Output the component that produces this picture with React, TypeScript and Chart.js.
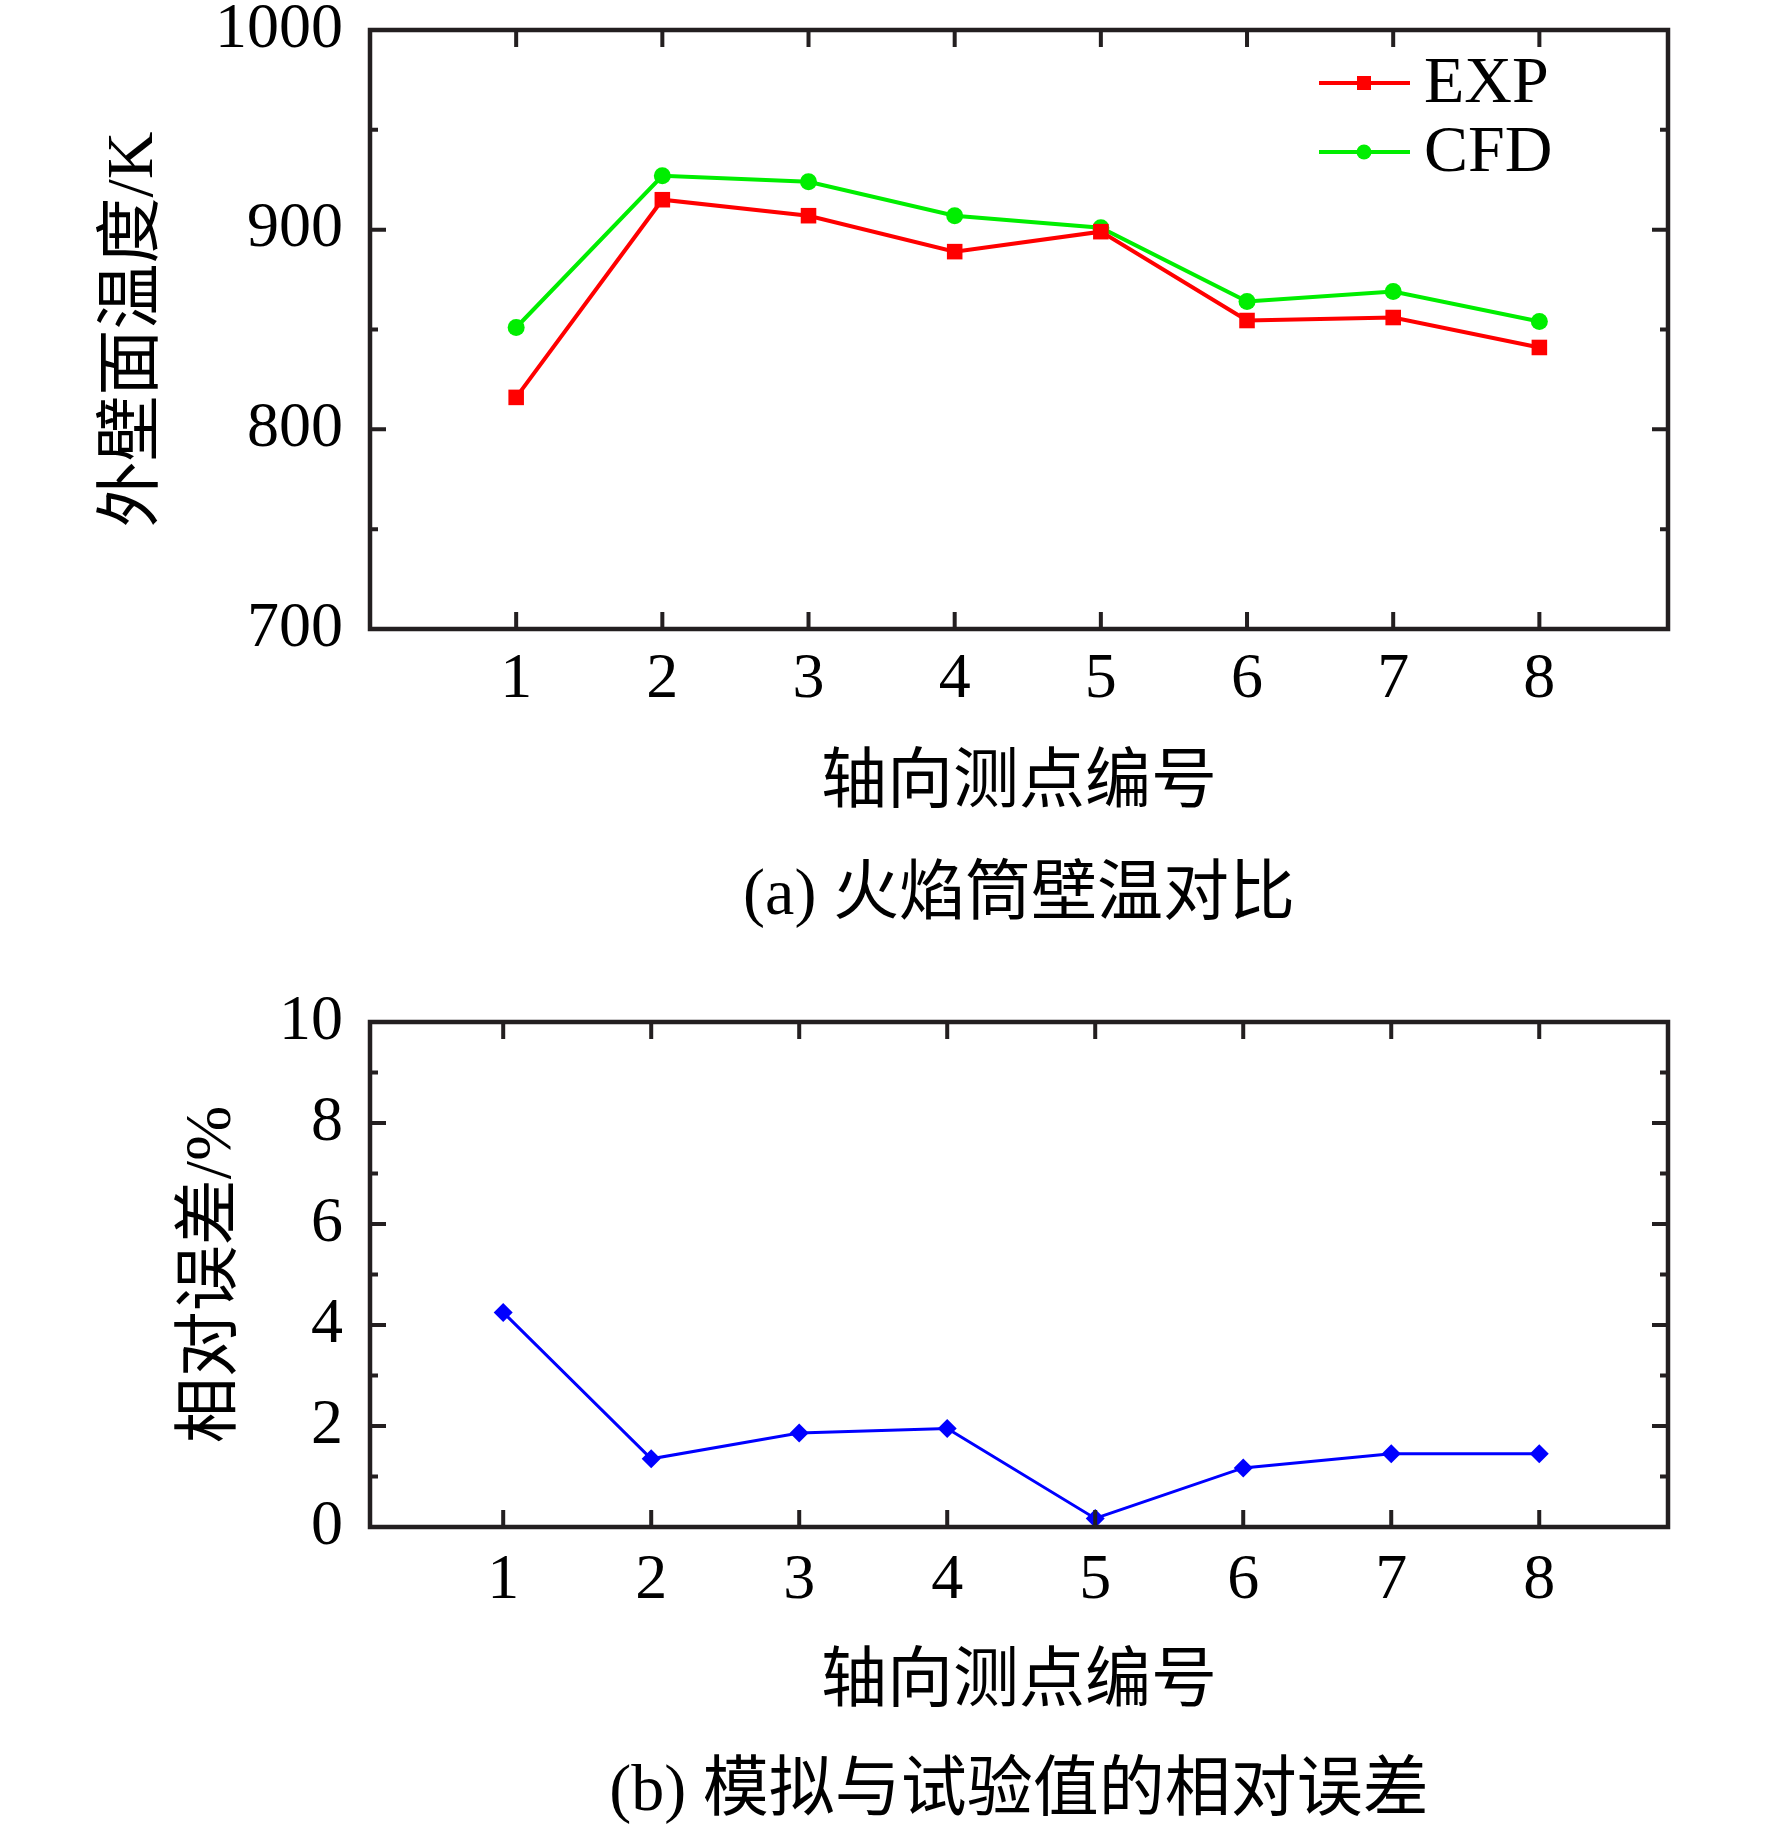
import React, { useEffect, useRef } from "react";
import { Chart, registerables } from "chart.js";

Chart.register(...registerables);

// ---------- data ----------
const POINTS = [1, 2, 3, 4, 5, 6, 7, 8];
const EXP = [816, 915, 907, 889, 899, 854.5, 856, 841];
const CFD = [851, 927, 924, 907, 901, 864, 869, 854];
const ERR = [4.25, 1.35, 1.86, 1.95, 0.17, 1.17, 1.45, 1.45];
const TOP_Y_MINOR = [750, 850, 950];
const BOT_Y_MINOR = [1, 3, 5, 7, 9];
const X_TITLE = "轴向测点编号";
const CAPTION_A = "(a) 火焰筒壁温对比";
const CAPTION_B = "(b) 模拟与试验值的相对误差";
const Y_TITLE_A = "外壁面温度/K";
const Y_TITLE_B = "相对误差/%";

// ---------- style ----------
const FAMILY = '"Liberation Serif", "Times New Roman", "Noto Sans CJK SC", serif';
const FRAME = "#231f20";
const RED = "#ff0000";
const GREEN = "#00ee00";
const BLUE = "#0000ff";

const framePlugin = (minor: number[]) => ({
  id: "frame",
  afterDraw(chart: any) {
    const { ctx, chartArea: a, scales } = chart;
    const xs = scales.x;
    const ys = scales.y;
    ctx.save();
    ctx.strokeStyle = FRAME;
    ctx.lineWidth = 4;
    ctx.beginPath();
    for (const t of xs.ticks) {
      const px = xs.getPixelForValue(t.value);
      ctx.moveTo(px, a.bottom);
      ctx.lineTo(px, a.bottom - 17);
      ctx.moveTo(px, a.top);
      ctx.lineTo(px, a.top + 17);
    }
    for (const t of ys.ticks) {
      const py = ys.getPixelForValue(t.value);
      ctx.moveTo(a.left, py);
      ctx.lineTo(a.left + 16, py);
      ctx.moveTo(a.right, py);
      ctx.lineTo(a.right - 16, py);
    }
    for (const v of minor) {
      const py = ys.getPixelForValue(v);
      ctx.moveTo(a.left, py);
      ctx.lineTo(a.left + 8, py);
      ctx.moveTo(a.right, py);
      ctx.lineTo(a.right - 8, py);
    }
    ctx.stroke();
    ctx.lineWidth = 4.5;
    ctx.strokeRect(a.left, a.top, a.right - a.left, a.bottom - a.top);
    ctx.restore();
  },
});

const legendPlugin = (x: number, y: number, gap: number) => ({
  id: "customLegend",
  afterDraw(chart: any) {
    const ctx = chart.ctx;
    ctx.save();
    chart.data.datasets.forEach((ds: any, i: number) => {
      const yy = y + i * gap;
      ctx.strokeStyle = ds.borderColor;
      ctx.lineWidth = 4;
      ctx.beginPath();
      ctx.moveTo(x, yy);
      ctx.lineTo(x + 91, yy);
      ctx.stroke();
      ctx.fillStyle = ds.borderColor;
      const cx = x + 45;
      if (ds.pointStyle === "rect") {
        ctx.fillRect(cx - 7, yy - 7, 14, 14);
      } else {
        ctx.beginPath();
        ctx.arc(cx, yy, 7.5, 0, Math.PI * 2);
        ctx.fill();
      }
      ctx.fillStyle = "#000";
      ctx.font = `66px ${FAMILY}`;
      ctx.textAlign = "left";
      ctx.textBaseline = "middle";
      ctx.fillText(ds.label, x + 105, yy + 2);
    });
    ctx.restore();
  },
});

const tickFont = { family: FAMILY, size: 64, lineHeight: 1 };
const plainNum = (v: any) => String(v);

function topConfig(): any {
  return {
    type: "line",
    data: {
      datasets: [
        {
          label: "EXP",
          data: POINTS.map((x, i) => ({ x, y: EXP[i] })),
          borderColor: RED,
          backgroundColor: RED,
          borderWidth: 4,
          pointStyle: "rect",
          pointRadius: 11,
          pointBorderWidth: 0,
          tension: 0,
        },
        {
          label: "CFD",
          data: POINTS.map((x, i) => ({ x, y: CFD[i] })),
          borderColor: GREEN,
          backgroundColor: GREEN,
          borderWidth: 4,
          pointStyle: "circle",
          pointRadius: 8.5,
          pointBorderWidth: 0,
          tension: 0,
        },
      ],
    },
    options: {
      responsive: false,
      animation: false,
      devicePixelRatio: 1,
      layout: { padding: { left: 0, top: 30, right: 104, bottom: 0 } },
      plugins: { legend: { display: false }, tooltip: { enabled: false } },
      scales: {
        x: {
          type: "linear",
          min: 0,
          max: 8.88,
          afterBuildTicks: (s: any) => {
            s.ticks = POINTS.map((v) => ({ value: v }));
          },
          afterFit: (s: any) => {
            s.height = 331;
          },
          grid: { display: false, drawTicks: false },
          border: { display: false },
          ticks: { font: tickFont, color: "#000", padding: 19, autoSkip: false, maxRotation: 0, callback: plainNum },
          title: {
            display: true,
            text: [X_TITLE, CAPTION_A],
            color: "#000",
            font: { family: FAMILY, size: 66, lineHeight: 112 / 66 },
            padding: { top: 0, bottom: 7 },
          },
        },
        y: {
          min: 700,
          max: 1000,
          afterFit: (s: any) => {
            s.width = 370;
            s.paddingTop = 0;
            s.paddingBottom = 0;
          },
          grid: { display: false, drawTicks: false },
          border: { display: false },
          ticks: { stepSize: 100, font: tickFont, color: "#000", padding: 27, callback: plainNum },
          title: {
            display: true,
            text: Y_TITLE_A,
            color: "#000",
            font: { family: FAMILY, size: 66, lineHeight: 1 },
            padding: { top: 102, bottom: 0 },
          },
        },
      },
    },
    plugins: [framePlugin(TOP_Y_MINOR), legendPlugin(1319, 83, 69)],
  };
}

function bottomConfig(): any {
  return {
    type: "line",
    data: {
      datasets: [
        {
          label: "ERR",
          data: POINTS.map((x, i) => ({ x, y: ERR[i] })),
          borderColor: BLUE,
          backgroundColor: BLUE,
          borderWidth: 3,
          pointStyle: "rectRot",
          pointRadius: 9.5,
          pointBorderWidth: 0,
          tension: 0,
        },
      ],
    },
    options: {
      responsive: false,
      animation: false,
      devicePixelRatio: 1,
      layout: { padding: { left: 0, top: 62, right: 104, bottom: 0 } },
      plugins: { legend: { display: false }, tooltip: { enabled: false } },
      scales: {
        x: {
          type: "linear",
          min: 0.1,
          max: 8.87,
          afterBuildTicks: (s: any) => {
            s.ticks = POINTS.map((v) => ({ value: v }));
          },
          afterFit: (s: any) => {
            s.height = 333;
          },
          grid: { display: false, drawTicks: false },
          border: { display: false },
          ticks: { font: tickFont, color: "#000", padding: 22, autoSkip: false, maxRotation: 0, callback: plainNum },
          title: {
            display: true,
            text: [X_TITLE, CAPTION_B],
            color: "#000",
            font: { family: FAMILY, size: 66, lineHeight: 109 / 66 },
            padding: { top: 0, bottom: 12.5 },
          },
        },
        y: {
          min: 0,
          max: 10,
          afterFit: (s: any) => {
            s.width = 370;
            s.paddingTop = 0;
            s.paddingBottom = 0;
          },
          grid: { display: false, drawTicks: false },
          border: { display: false },
          ticks: { stepSize: 2, font: tickFont, color: "#000", padding: 27, callback: plainNum },
          title: {
            display: true,
            text: Y_TITLE_B,
            color: "#000",
            font: { family: FAMILY, size: 66, lineHeight: 1 },
            padding: { top: 180, bottom: 0 },
          },
        },
      },
    },
    plugins: [framePlugin(BOT_Y_MINOR)],
  };
}

function ChartCanvas({ make, top, height }: { make: () => any; top: number; height: number }) {
  const ref = useRef<HTMLCanvasElement>(null);
  useEffect(() => {
    const chart = new Chart(ref.current as HTMLCanvasElement, make());
    return () => chart.destroy();
  }, []);
  return (
    <canvas
      ref={ref}
      width={1772}
      height={height}
      style={{ position: "absolute", left: 0, top, width: 1772, height, display: "block" }}
    />
  );
}

export default function App() {
  return (
    <div
      style={{
        position: "absolute",
        left: 0,
        top: 0,
        width: 1772,
        height: 1837,
        overflow: "hidden",
        background: "#fff",
      }}
    >
      <ChartCanvas make={topConfig} top={0} height={960} />
      <ChartCanvas make={bottomConfig} top={960} height={900} />
    </div>
  );
}
